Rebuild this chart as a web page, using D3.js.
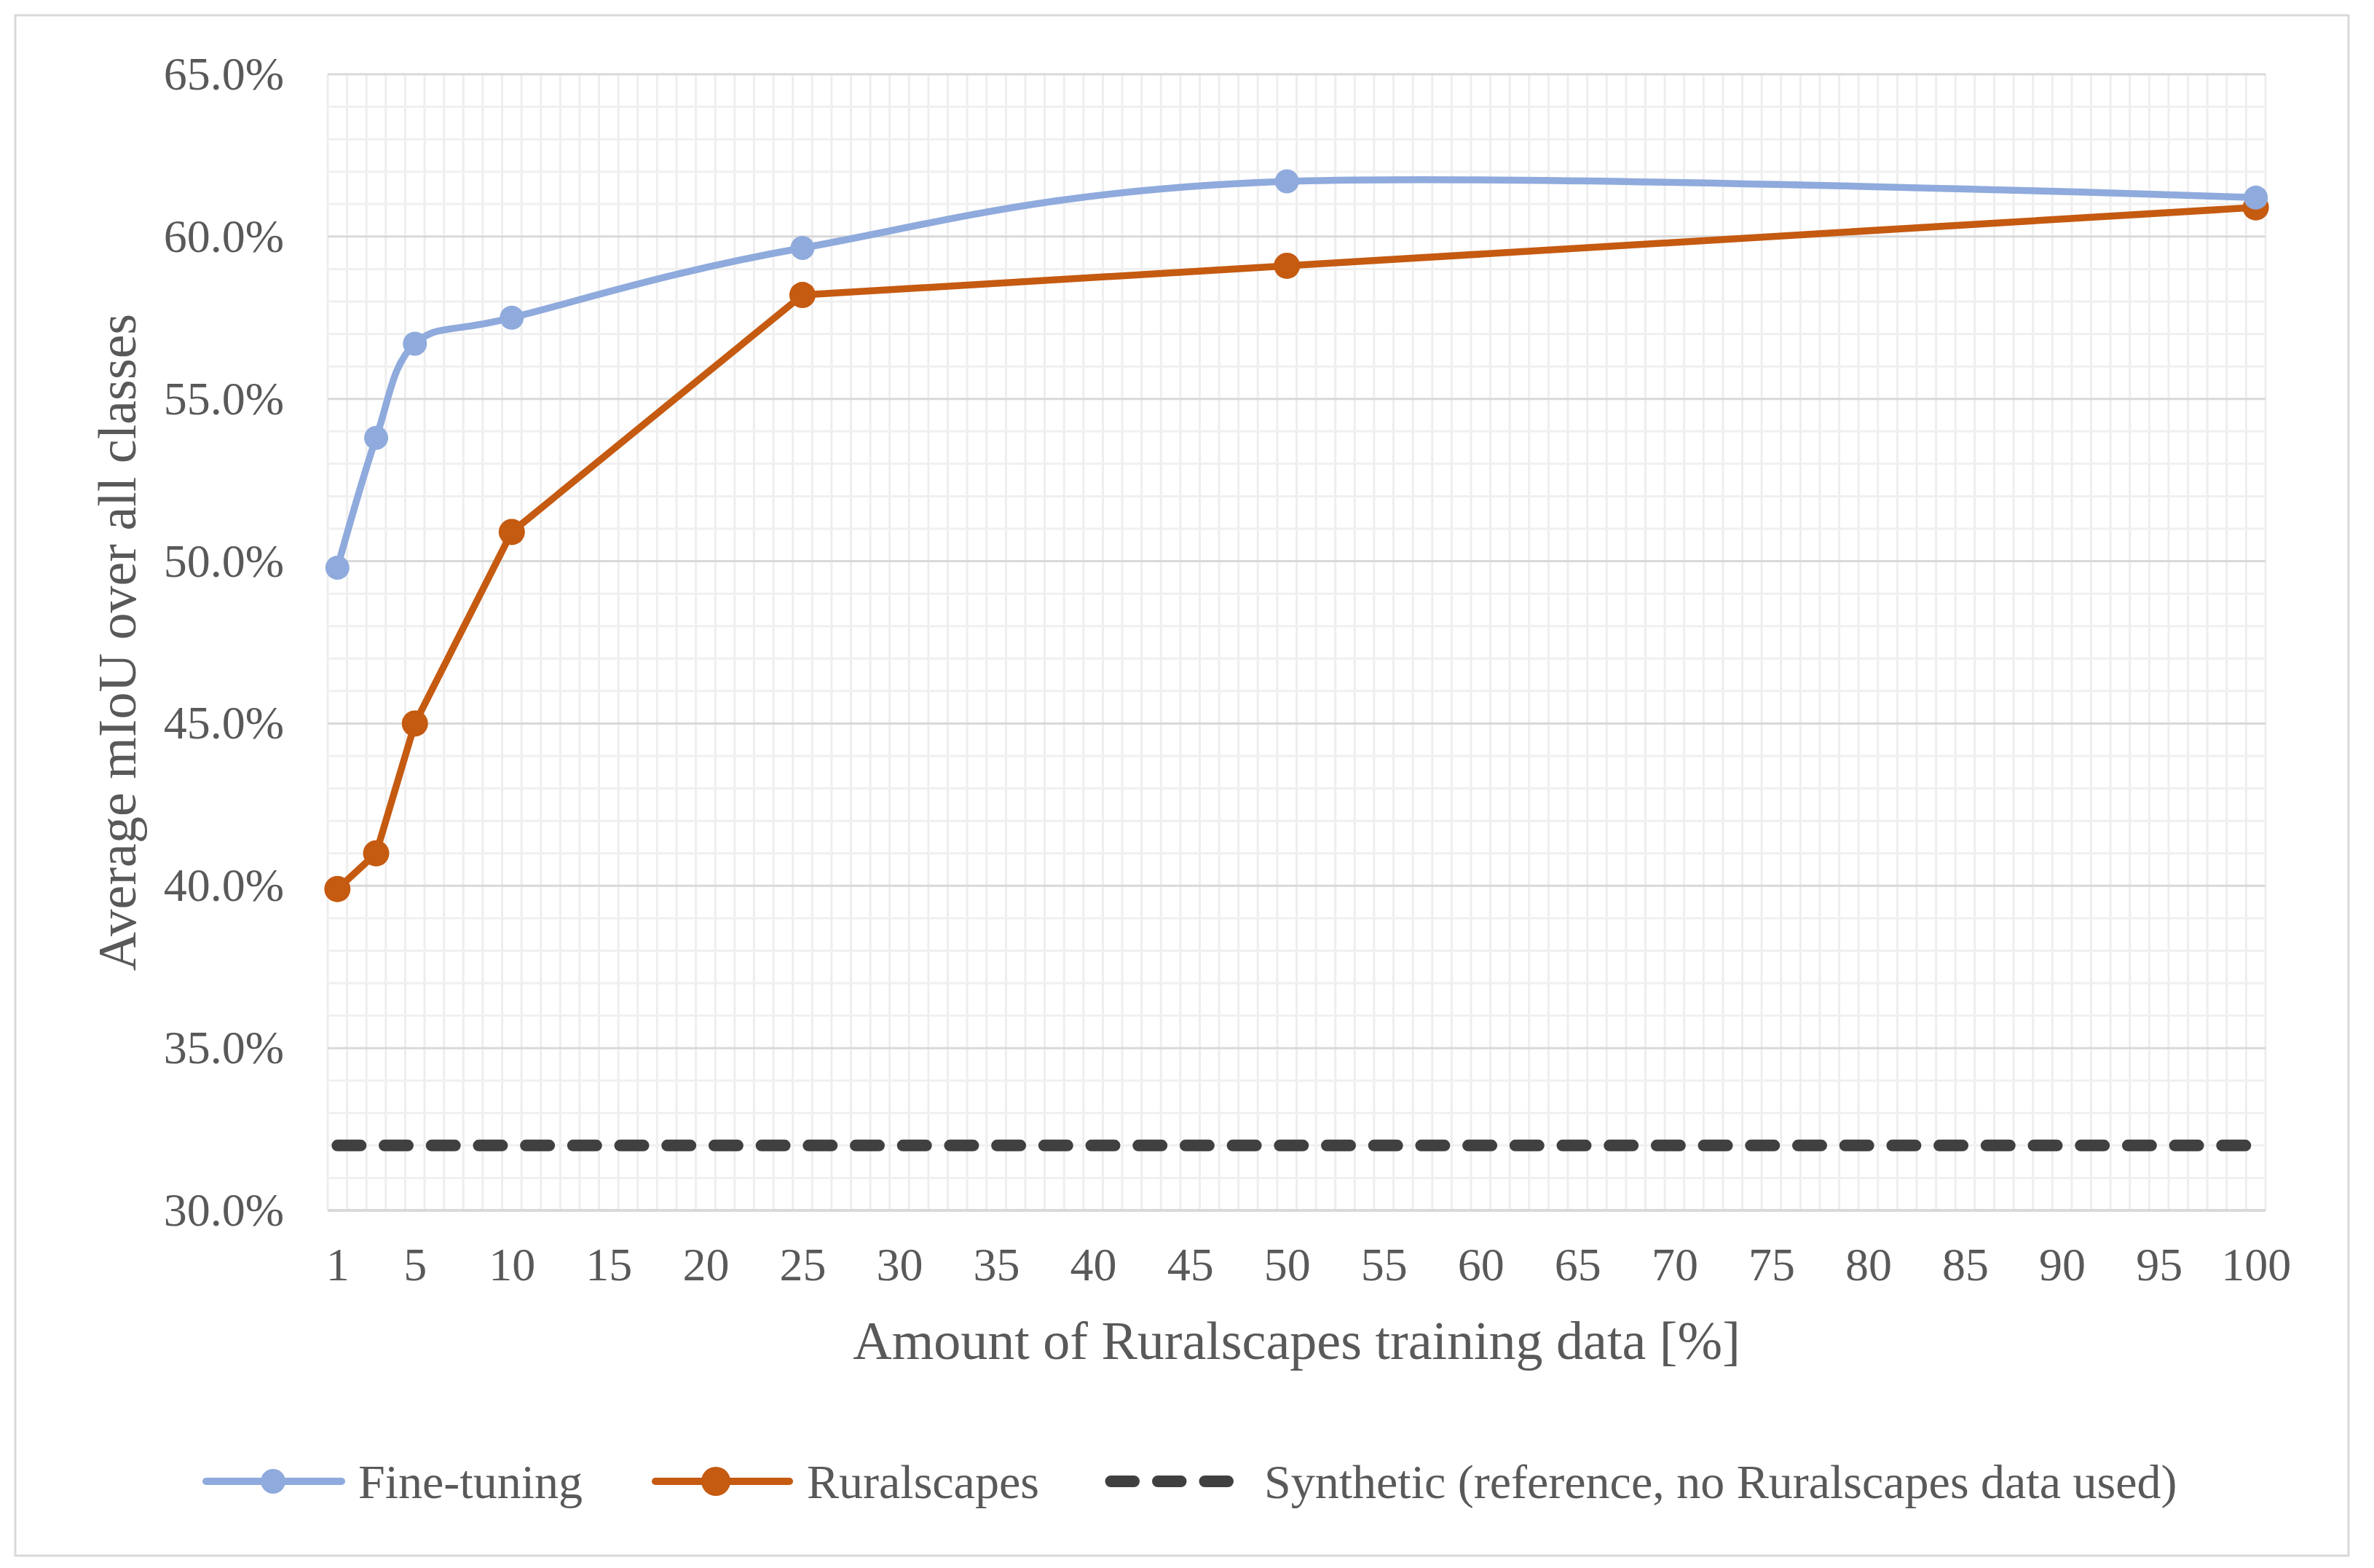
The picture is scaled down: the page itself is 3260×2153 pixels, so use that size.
<!DOCTYPE html>
<html><head><meta charset="utf-8">
<script src="https://cdn.jsdelivr.net/npm/d3@7"></script>
<style>html,body{margin:0;padding:0;background:#fff;}svg{display:block;}</style>
</head><body>
<svg id="c" width="3260" height="2153"></svg>
<script>
const xValues = [1, 3, 5, 10, 25, 50, 100];
const fineTuning = [49.8, 53.8, 56.7, 57.5, 59.65, 61.7, 61.2];
const ruralscapes = [39.9, 41.0, 45.0, 50.9, 58.2, 59.1, 60.9];
const synthetic = [32.0, 32.0];
const syntheticX = [1, 100];
const xTickLabels = [1, 5, 10, 15, 20, 25, 30, 35, 40, 45, 50, 55, 60, 65, 70, 75, 80, 85, 90, 95, 100];
const yTickLabels = [30, 35, 40, 45, 50, 55, 60, 65];
const seriesNames = ["Fine-tuning", "Ruralscapes", "Synthetic (reference, no Ruralscapes data used)"];

const svg = d3.select("#c");
const L = 450, R = 3111, T = 102, B = 1662;
const font = "'Liberation Serif', 'Times New Roman', serif";
const textColor = "#595959";
const blue = "#8faadc", orange = "#c55a11", dark = "#404040";

svg.append("rect").attr("x", 21).attr("y", 21).attr("width", 3204).attr("height", 2115)
  .attr("fill", "#fff").attr("stroke", "#d9d9d9").attr("stroke-width", 3);

const x = d3.scaleLinear().domain([0.5, 100.5]).range([L, R]);
const y = d3.scaleLinear().domain([30, 65]).range([B, T]);

const grid = svg.append("g");
grid.selectAll("line.v").data(d3.range(0.5, 100.6, 1)).join("line")
  .attr("x1", d => x(d)).attr("x2", d => x(d)).attr("y1", T).attr("y2", B)
  .attr("stroke", "#eeeeee").attr("stroke-width", 3);
grid.selectAll("line.hm").data(d3.range(30, 65.1, 1).filter(d => d % 5 !== 0)).join("line")
  .attr("x1", L).attr("x2", R).attr("y1", d => y(d)).attr("y2", d => y(d))
  .attr("stroke", "#f0f0f0").attr("stroke-width", 3);
grid.selectAll("line.hM").data(yTickLabels).join("line")
  .attr("x1", L).attr("x2", R).attr("y1", d => y(d)).attr("y2", d => y(d))
  .attr("stroke", "#d9d9d9").attr("stroke-width", d => d === 30 ? 4 : 3);

const xAxis = svg.append("g").attr("transform", `translate(0,${B})`)
  .call(d3.axisBottom(x).tickValues(xTickLabels).tickSize(0).tickPadding(51));
xAxis.select(".domain").remove();
xAxis.selectAll("text").attr("font-family", font).attr("font-size", 64).attr("fill", textColor);

const yAxis = svg.append("g").attr("transform", `translate(${L},0)`)
  .call(d3.axisLeft(y).tickValues(yTickLabels).tickSize(0).tickPadding(60).tickFormat(d => d.toFixed(1) + "%"));
yAxis.select(".domain").remove();
yAxis.selectAll("text").attr("font-family", font).attr("font-size", 64).attr("fill", textColor);

svg.append("text").attr("x", (L + R) / 2).attr("y", 1840).attr("dy", "0.35em")
  .attr("text-anchor", "middle").attr("font-family", font).attr("font-size", 74).attr("fill", textColor)
  .text("Amount of Ruralscapes training data [%]");
svg.append("text").attr("transform", `translate(160,${(T + B) / 2}) rotate(-90)`).attr("dy", "0.35em")
  .attr("text-anchor", "middle").attr("font-family", font).attr("font-size", 74).attr("fill", textColor)
  .text("Average mIoU over all classes");

const lineStraight = d3.line().x(d => x(d[0])).y(d => y(d[1]));
svg.append("path").datum(syntheticX.map((d, i) => [d, synthetic[i]]))
  .attr("d", lineStraight).attr("fill", "none").attr("stroke", dark)
  .attr("stroke-width", 16).attr("stroke-linecap", "round").attr("stroke-dasharray", "32,32.7");

const ruralData = xValues.map((d, i) => [d, ruralscapes[i]]);
svg.append("path").datum(ruralData).attr("d", lineStraight).attr("fill", "none")
  .attr("stroke", orange).attr("stroke-width", 9.5).attr("stroke-linejoin", "round");
svg.selectAll("circle.r").data(ruralData).join("circle")
  .attr("cx", d => x(d[0])).attr("cy", d => y(d[1])).attr("r", 18).attr("fill", orange);

const fineData = xValues.map((d, i) => [d, fineTuning[i]]);
const lineSmooth = d3.line().x(d => x(d[0])).y(d => y(d[1])).curve(d3.curveCatmullRom.alpha(0));
svg.append("path").datum(fineData).attr("d", lineSmooth).attr("fill", "none")
  .attr("stroke", blue).attr("stroke-width", 9.5);
svg.selectAll("circle.f").data(fineData).join("circle")
  .attr("cx", d => x(d[0])).attr("cy", d => y(d[1])).attr("r", 16.5).attr("fill", blue);

const ly = 2034;
const leg = svg.append("g");
leg.append("line").attr("x1", 283).attr("x2", 469).attr("y1", ly).attr("y2", ly).attr("stroke", blue).attr("stroke-width", 10).attr("stroke-linecap", "round");
leg.append("circle").attr("cx", 375).attr("cy", ly).attr("r", 17).attr("fill", blue);
leg.append("text").attr("x", 492).attr("y", ly).attr("dy", "0.35em").attr("font-family", font).attr("font-size", 66).attr("fill", textColor).text(seriesNames[0]);
leg.append("line").attr("x1", 900).attr("x2", 1084).attr("y1", ly).attr("y2", ly).attr("stroke", orange).attr("stroke-width", 10).attr("stroke-linecap", "round");
leg.append("circle").attr("cx", 983).attr("cy", ly).attr("r", 20).attr("fill", orange);
leg.append("text").attr("x", 1108).attr("y", ly).attr("dy", "0.35em").attr("font-family", font).attr("font-size", 66).attr("fill", textColor).text(seriesNames[1]);
leg.append("line").attr("x1", 1525.5).attr("x2", 1686).attr("y1", ly).attr("y2", ly).attr("stroke", dark).attr("stroke-width", 16).attr("stroke-linecap", "round").attr("stroke-dasharray", "31.5,33");
leg.append("text").attr("x", 1736).attr("y", ly).attr("dy", "0.35em").attr("font-family", font).attr("font-size", 66).attr("fill", textColor).text(seriesNames[2]);
</script>
</body></html>
